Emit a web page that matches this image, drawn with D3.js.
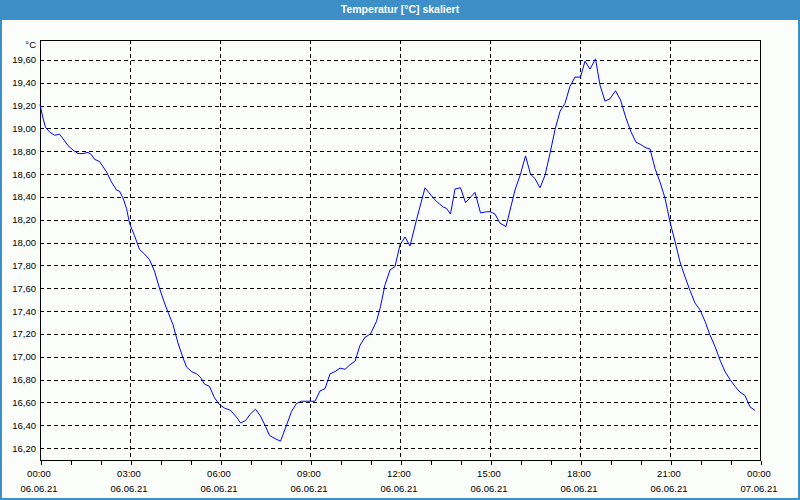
<!DOCTYPE html>
<html><head><meta charset="utf-8">
<script src="https://cdn.jsdelivr.net/npm/d3@7/dist/d3.min.js"></script>
<style>body{margin:0;background:#fff;overflow:hidden}svg{display:block}</style>
</head><body><svg id="c" width="800" height="500"></svg>
<script>
const chartTitle = "Temperatur [°C] skaliert";
const unitLabel = "°C";
const times = ["00:00","00:06","00:11","00:19","00:29","00:39","00:46","00:56","01:06","01:16","01:26","01:36","01:43","01:49","01:59","02:13","02:23","02:33","02:39","02:46","02:53","02:59","03:09","03:19","03:29","03:39","03:49","03:59","04:09","04:17","04:26","04:36","04:46","04:53","05:03","05:13","05:21","05:29","05:39","05:49","05:59","06:09","06:21","06:33","06:41","06:51","07:01","07:11","07:21","07:31","07:39","07:51","08:01","08:13","08:23","08:33","08:43","09:10","09:20","09:30","09:40","09:50","10:00","10:10","10:20","10:30","10:40","10:50","11:01","11:13","11:21","11:30","11:40","11:50","12:00","12:10","12:20","12:33","12:50","13:03","13:13","13:27","13:33","13:41","13:50","14:01","14:11","14:30","14:41","14:53","15:01","15:10","15:20","15:32","15:50","16:01","16:11","16:21","16:30","16:40","16:50","17:00","17:10","17:20","17:30","17:40","17:50","18:01","18:10","18:20","18:31","18:40","18:50","19:00","19:11","19:21","19:32","19:42","19:52","20:01","20:12","20:20","20:30","20:40","20:50","21:00","21:10","21:20","21:30","21:40","21:50","22:00","22:10","22:20","22:30","22:40","22:50","23:00","23:10","23:20","23:30","23:40","23:50"];
const temps = [19.21,19.09,19.01,18.97,18.94,18.95,18.91,18.85,18.81,18.78,18.78,18.79,18.77,18.73,18.71,18.62,18.53,18.46,18.45,18.39,18.30,18.17,18.06,17.94,17.90,17.85,17.75,17.60,17.47,17.38,17.28,17.12,16.99,16.91,16.87,16.85,16.82,16.76,16.74,16.64,16.58,16.55,16.53,16.47,16.42,16.44,16.50,16.54,16.48,16.39,16.31,16.28,16.26,16.40,16.52,16.59,16.61,16.61,16.70,16.72,16.85,16.87,16.90,16.89,16.93,16.96,17.10,17.17,17.20,17.31,17.44,17.63,17.76,17.79,17.98,18.05,17.97,18.20,18.48,18.41,18.36,18.31,18.30,18.25,18.47,18.48,18.35,18.44,18.26,18.27,18.27,18.25,18.17,18.14,18.46,18.60,18.76,18.60,18.56,18.48,18.59,18.78,18.99,19.15,19.22,19.37,19.45,19.45,19.59,19.52,19.61,19.38,19.24,19.26,19.33,19.25,19.09,18.97,18.88,18.86,18.83,18.82,18.65,18.53,18.39,18.18,18.01,17.83,17.70,17.58,17.47,17.41,17.31,17.19,17.09,16.97,16.87,16.80,16.74,16.69,16.66,16.56,16.53];
const yTicks = [16.2,16.4,16.6,16.8,17.0,17.2,17.4,17.6,17.8,18.0,18.2,18.4,18.6,18.8,19.0,19.2,19.4,19.6];
const xLabelTimes = ["00:00","03:00","06:00","09:00","12:00","15:00","18:00","21:00","00:00"];
const xLabelDates = ["06.06.21","06.06.21","06.06.21","06.06.21","06.06.21","06.06.21","06.06.21","06.06.21","07.06.21"];
const yDomain = [16.095, 19.775];

const W = 800, H = 500;
const M = {l:40, r:760, t:40, b:460};
const svg = d3.select("#c");
const font = "'Liberation Sans', Arial, sans-serif";

const day0 = new Date(2021,5,6,0,0);
const parseT = s => { const [h,m] = s.split(":").map(Number); return new Date(2021,5,6,h,m); };
const data = times.map((t,i)=>({t:parseT(t), v:temps[i]}));

const x = d3.scaleTime().domain([day0, d3.timeDay.offset(day0,1)]).range([M.l, M.r]);
const y = d3.scaleLinear().domain(yDomain).range([M.b, M.t]);

// background + frame
svg.append("rect").attr("width",W).attr("height",H).attr("fill","#3c8fc7");
svg.append("rect").attr("x",2).attr("y",20).attr("width",W-4).attr("height",H-22).attr("fill","#fbfdfb");
svg.append("text").attr("x",W/2).attr("y",13).attr("text-anchor","middle")
  .attr("fill","#fff").attr("font-family",font).attr("font-weight","bold").attr("font-size","10.5px")
  .text(chartTitle);

// gridlines
const grid = svg.append("g").attr("shape-rendering","crispEdges").attr("stroke","#000").attr("stroke-dasharray","4,3");
grid.selectAll("line.h").data(yTicks).join("line")
  .attr("x1",M.l).attr("x2",M.r).attr("y1",d=>Math.round(y(d))+0.5).attr("y2",d=>Math.round(y(d))+0.5);
const vGrid = d3.timeHour.range(d3.timeHour.offset(day0,3), d3.timeDay.offset(day0,1), 3);
grid.selectAll("line.v").data(vGrid).join("line")
  .attr("y1",M.t).attr("y2",M.b).attr("x1",d=>Math.round(x(d))+0.5).attr("x2",d=>Math.round(x(d))+0.5);

// bottom axis (hourly ticks)
const xAxis = d3.axisBottom(x).tickValues(d3.timeHour.range(day0, d3.timeHour.offset(day0,25), 1))
  .tickSize(4).tickSizeOuter(0).tickFormat("");
const gx = svg.append("g").attr("transform",`translate(0.5,${M.b+0.5})`).call(xAxis);
gx.select(".domain").remove();
gx.selectAll(".tick line").attr("stroke","#000").attr("shape-rendering","crispEdges");

// x labels
const labelTimes = d3.timeHour.range(day0, d3.timeHour.offset(day0,25), 3);
const lg = svg.append("g").attr("font-family",font).attr("font-size","9.5px").attr("fill","#000").attr("text-anchor","middle");
lg.selectAll("text.t").data(labelTimes).join("text").attr("x",d=>x(d)-1).attr("y",477).text((d,i)=>xLabelTimes[i]);
lg.selectAll("text.d").data(labelTimes).join("text").attr("x",d=>x(d)-1).attr("y",492).text((d,i)=>xLabelDates[i]);

// y labels
const yl = svg.append("g").attr("font-family",font).attr("font-size","9.5px").attr("fill","#000").attr("text-anchor","end");
yl.selectAll("text").data(yTicks).join("text").attr("x",36).attr("y",d=>y(d)+3.5)
  .text(d=>d3.format(".2f")(d).replace(".",","));
yl.append("text").attr("x",36).attr("y",48).text(unitLabel);

// frame of plot
svg.append("rect").attr("x",M.l+0.5).attr("y",M.t+0.5).attr("width",M.r-M.l).attr("height",M.b-M.t)
  .attr("fill","none").attr("stroke","#000").attr("shape-rendering","crispEdges");

// line
const line = d3.line().x(d=>x(d.t)).y(d=>y(d.v));
svg.append("path").datum(data).attr("d",line).attr("fill","none").attr("stroke","#0000ff").attr("stroke-width",1);
</script></body></html>
